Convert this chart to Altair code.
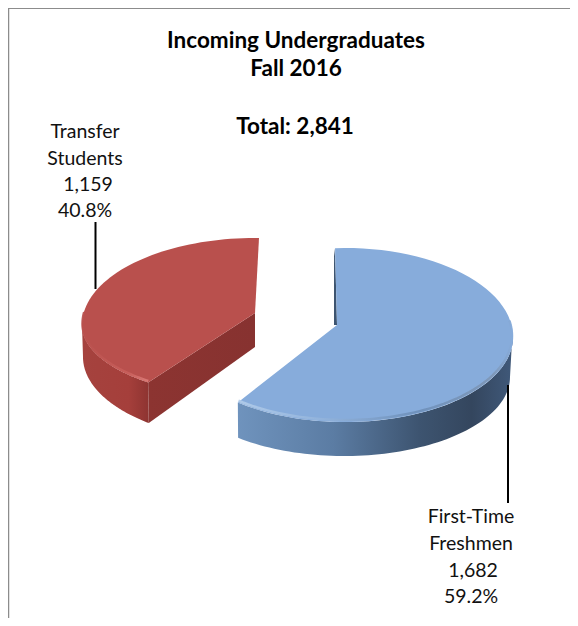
import math
import altair as alt
import pandas as pd

categories = ["First-Time Freshmen", "Transfer Students"]
counts = [1682, 1159]
title_lines = ["Incoming Undergraduates", "Fall 2016", "Total: 2,841"]
title_x = [296, 296, 295]
title_y = [41, 69, 127]
label_lines = ["Transfer", "Students", "1,159", "40.8%", "First-Time", "Freshmen", "1,682", "59.2%"]
label_x = [85, 85, 88, 85, 471, 471, 473, 471]
label_y = [132, 159, 185, 211, 517, 544, 571, 597]

share_transfer = counts[1] / sum(counts)
# Slice boundary on the tilted ellipse; the visual shift stands in for Excel's perspective.
BOUNDARY = 90 + 360 * share_transfer - 5
BLUE_END = BOUNDARY - 1.5 - 360

X = alt.X("x:Q", scale=alt.Scale(domain=[8, 570]), axis=None)
Y = alt.Y("y:Q", scale=alt.Scale(domain=[618, 8]), axis=None)


def arc(cx, cy, a, up, low, t0, t1, n=70):
    pts = []
    for k in range(n + 1):
        t = math.radians(t0 + (t1 - t0) * k / n)
        s = math.sin(t)
        pts.append((cx + a * math.cos(t), cy - (up if s > 0 else low) * s))
    return pts


def shape(pts, **mark):
    df = pd.DataFrame(pts, columns=["x", "y"]).assign(i=range(len(pts)))
    return alt.Chart(df).mark_line(clip=False, **mark).encode(x=X, y=Y, order="i:Q")


def grad(stops, x1=0, x2=1, y1=0, y2=0):
    return alt.Gradient(
        gradient="linear", x1=x1, x2=x2, y1=y1, y2=y2,
        stops=[alt.GradientStop(offset=o, color=c) for o, c in stops],
    )


# Transfer slice
red_apex = (255, 313)
red_top = arc(255, 325, 173, 87, 73, 90, BOUNDARY)
red_low = arc(255, 357, 172, 84, 84, 180, BOUNDARY)
red_wall_top = arc(255, 325, 173, 87, 73, 180, BOUNDARY)
red_rim = arc(254.5, 324, 172, 86, 72.5, 172, BOUNDARY)
red_wall = red_wall_top + red_low[::-1]
red_vertex = red_top[-1]
red_radial = [red_vertex, red_apex, (red_apex[0], 347), red_low[-1]]
red_face = [(259, 238)] + red_top + [red_apex]

# Freshmen slice
blue_apex = (337, 325)
blue_top = arc(345, 337, 168, 89, 85, BLUE_END, 93.4)
blue_wall_top = arc(345, 337, 168, 89, 85, BLUE_END, 4)
blue_wall_low = arc(344, 377, 166, 79, 79, BLUE_END, 0)
blue_rim = arc(345, 336, 167, 88, 84, BLUE_END, 10)
blue_wall = blue_wall_top + blue_wall_low[::-1]
blue_face = [blue_apex] + blue_top
blue_inner = [blue_top[-1], blue_apex, (blue_apex[0] - 3, blue_apex[1]), (blue_top[-1][0] - 1, blue_top[-1][1] + 8)]

layers = [
    shape([(8, 8), (570, 8)], stroke="#8c8c8c", strokeWidth=2),
    shape([(8.5, 8), (8.5, 618)], stroke="#8c8c8c", strokeWidth=1.5),
    shape(red_wall, fill=grad([(0, "#a5423e"), (0.7, "#a53f3b"), (1, "#8e3431")]), stroke=None),
    shape(red_radial, fill=grad([(0, "#8c3431"), (1, "#873230")]), stroke=None),
    shape(red_face, fill="#b9504d", stroke=None),
    shape(red_rim, stroke=grad([(0, "#b9504d"), (0.7, "#c9605c"), (1, "#de7f7b")]), strokeWidth=2.5, opacity=0.9),
    shape(blue_inner, fill="#3d5470", stroke=None),
    shape(blue_wall, fill=grad([(0, "#6f93bd"), (0.35, "#5b7ca3"), (0.66, "#3d5470"), (0.85, "#34465e"), (1, "#40597a")]), stroke=None),
    shape(blue_face, fill="#87acdb", stroke=None),
    shape(blue_rim, stroke=grad([(0, "#b3cdea"), (0.3, "#93b4dc"), (0.65, "#6d8fb9"), (0.93, "#7e96b5"), (1, "#87acdb")]), strokeWidth=2.5, opacity=0.9),
    shape([(95.5, 222), (95.5, 289)], stroke="black", strokeWidth=2),
    shape([(508, 385), (508, 503)], stroke="black", strokeWidth=2),
]

title_df = pd.DataFrame({"t": title_lines, "x": title_x, "y": title_y})
label_df = pd.DataFrame({"t": label_lines, "x": label_x, "y": label_y})
layers.append(alt.Chart(title_df).mark_text(font="Lato", fontWeight="bold", fontSize=22.5, color="black").encode(x=X, y=Y, text="t:N"))
layers.append(alt.Chart(label_df).mark_text(font="Lato", fontSize=19.5, color="#111111").encode(x=X, y=Y, text="t:N"))

chart = alt.layer(*layers).properties(
    width=562, height=610, padding=0, autosize=alt.AutoSizeParams(type="none")
).configure_view(stroke=None)

chart.save("out.html", embed_options={"renderer": "svg", "actions": False})
